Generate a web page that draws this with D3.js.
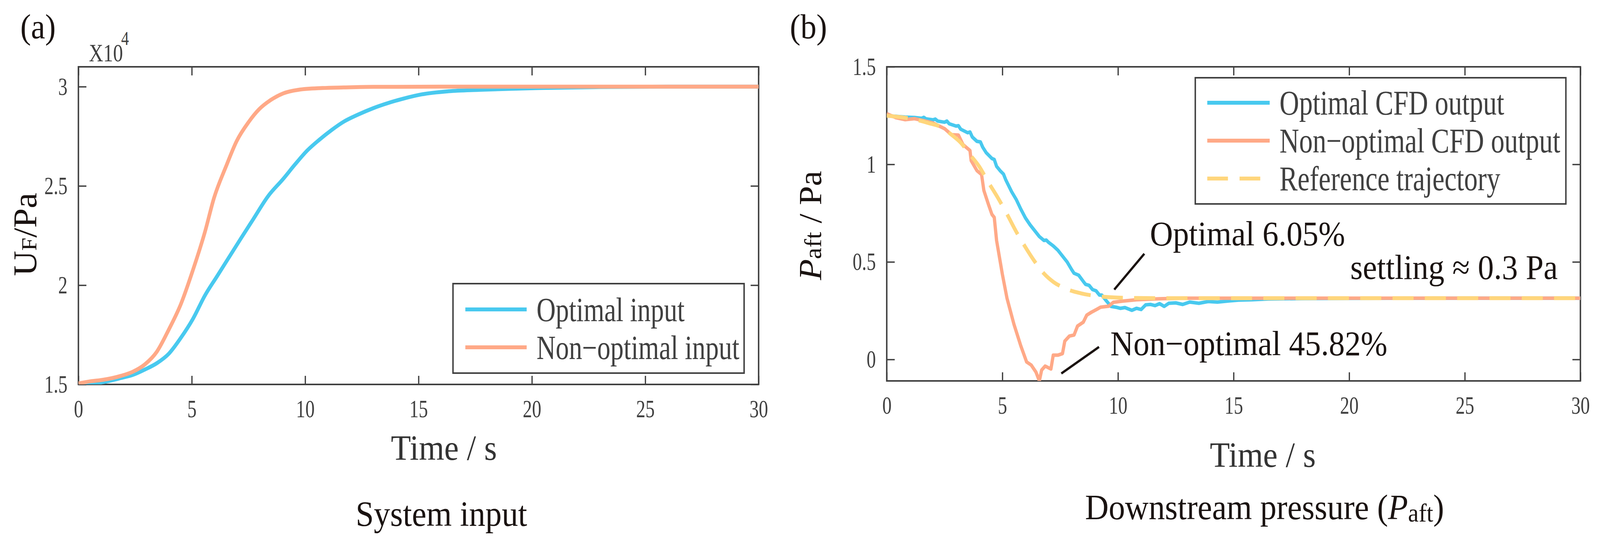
<!DOCTYPE html>
<html>
<head>
    <script src="https://d3js.org/d3.v7.min.js"></script>
    <style>
        html, body { margin: 0; padding: 0; overflow: hidden; background: #fff; }
        svg { display: block; width: 100vw; height: 100vh; }
        text { font-family: "Liberation Serif", "Times New Roman", serif; }
    </style>
</head>
<body>
    <svg viewBox="0 0 4408 1395" preserveAspectRatio="none"></svg>

    <script>
        // ---- data ----
        // panel (a): system input, [time s, value x10^4 Pa]
        const optimalInput = [
            [0, 1.5], [1.07, 1.511], [1.87, 1.532], [2.4, 1.548], [2.93, 1.575], [3.46, 1.607],
            [3.99, 1.655], [4.52, 1.735], [5.05, 1.83], [5.58, 1.948], [6.11, 2.044], [6.64, 2.14],
            [7.17, 2.236], [7.71, 2.332], [8.37, 2.449], [9.03, 2.535], [9.56, 2.609], [10.09, 2.678],
            [10.62, 2.732], [11.15, 2.78], [11.68, 2.822], [12.35, 2.86], [13.01, 2.892], [13.67, 2.918],
            [14.34, 2.94], [15.13, 2.961], [16.33, 2.977], [17.65, 2.984], [18.98, 2.989], [20.44, 2.993],
            [23, 2.998], [26, 3.0], [30, 3.0]
        ];
        const nonOptimalInput = [
            [0, 1.505], [0.54, 1.516], [1.07, 1.523], [1.87, 1.543], [2.4, 1.564], [2.93, 1.601],
            [3.46, 1.665], [3.99, 1.777], [4.52, 1.905], [5.05, 2.076], [5.58, 2.268], [5.98, 2.439],
            [6.51, 2.598], [6.98, 2.726], [7.51, 2.822], [7.97, 2.886], [8.5, 2.934], [9.03, 2.966],
            [9.69, 2.984], [10.76, 2.993], [11.7, 2.996], [13, 2.999], [16, 3.0], [30, 3.0]
        ];

        // panel (b): downstream pressure, [time s, Pa]
        const optimalCFD = [
            [0, 1.249], [0.4, 1.246], [0.8, 1.242], [1.2, 1.240], [1.5, 1.236], [1.6, 1.241], [1.7, 1.233],
            [2.0, 1.228], [2.1, 1.232], [2.2, 1.222], [2.5, 1.216], [2.6, 1.222], [2.7, 1.208], [3.0, 1.196],
            [3.1, 1.198], [3.2, 1.180], [3.5, 1.162], [3.6, 1.166], [3.7, 1.140], [3.9, 1.118], [4.05, 1.115],
            [4.15, 1.088], [4.3, 1.060], [4.55, 1.030], [4.65, 1.025], [4.75, 0.990], [4.9, 0.968],
            [5.05, 0.950], [5.15, 0.920], [5.4, 0.860], [5.6, 0.820], [5.8, 0.770], [6.0, 0.725],
            [6.2, 0.690], [6.4, 0.660], [6.6, 0.630], [6.8, 0.610], [6.9, 0.612], [7.0, 0.600],
            [7.2, 0.582], [7.4, 0.560], [7.6, 0.530], [7.8, 0.500], [8.0, 0.460], [8.1, 0.442],
            [8.3, 0.432], [8.5, 0.400], [8.6, 0.385], [8.75, 0.380], [8.9, 0.358], [9.05, 0.352],
            [9.2, 0.330], [9.3, 0.330], [9.5, 0.300], [9.7, 0.272], [9.9, 0.268], [10.1, 0.262],
            [10.3, 0.266], [10.6, 0.252], [10.8, 0.262], [11.0, 0.256], [11.2, 0.280], [11.4, 0.282],
            [11.6, 0.276], [11.8, 0.286], [12.0, 0.272], [12.2, 0.288], [12.5, 0.290], [12.8, 0.282],
            [13.1, 0.294], [13.5, 0.288], [13.9, 0.297], [14.3, 0.294], [14.8, 0.300], [15.2, 0.304],
            [15.8, 0.306], [16.5, 0.310], [18, 0.312], [20, 0.313], [25, 0.314], [30, 0.314]
        ];
        const nonOptimalCFD = [
            [0, 1.26], [0.4, 1.239], [0.8, 1.229], [1.2, 1.234], [1.6, 1.224], [2.0, 1.212],
            [2.5, 1.183], [2.8, 1.152], [3.1, 1.150], [3.3, 1.101], [3.6, 1.071], [3.65, 1.019],
            [3.9, 0.968], [4.1, 0.948], [4.2, 0.866], [4.4, 0.794], [4.55, 0.743], [4.65, 0.728],
            [4.75, 0.61], [5.0, 0.437], [5.2, 0.314], [5.5, 0.181], [5.8, 0.069], [6.05, -0.013],
            [6.25, -0.029], [6.45, -0.064], [6.6, -0.11], [6.7, -0.054], [6.85, -0.034], [7.1, -0.049],
            [7.2, 0.022], [7.4, 0.022], [7.6, 0.030], [7.7, 0.094], [7.9, 0.120], [8.1, 0.125],
            [8.25, 0.171], [8.5, 0.191], [8.65, 0.227], [8.85, 0.242], [9.1, 0.258], [9.25, 0.268],
            [9.6, 0.273], [9.8, 0.293], [10.2, 0.299], [10.8, 0.306], [11.8, 0.311], [12.8, 0.314],
            [30, 0.314]
        ];
        const referenceTraj = [
            [0, 1.249], [0.8, 1.239], [1.8, 1.212], [2.4, 1.188], [2.8, 1.152], [3.2, 1.111],
            [3.6, 1.05], [4.0, 0.989], [4.4, 0.907], [4.8, 0.83], [5.2, 0.745], [5.6, 0.655],
            [6.0, 0.575], [6.4, 0.502], [6.8, 0.440], [7.2, 0.398], [7.8, 0.360], [8.4, 0.339],
            [9.0, 0.326], [9.8, 0.318], [10.8, 0.315], [11.8, 0.314], [30, 0.314]
        ];

        const timeTicks = [0, 5, 10, 15, 20, 25, 30];
        const inputTicks = [1.5, 2, 2.5, 3];
        const inputTickLabels = ["1.5", "2", "2.5", "3"];
        const pressureTicks = [0, 0.5, 1, 1.5];
        const pressureTickLabels = ["0", "0.5", "1", "1.5"];

        const legendA = ["Optimal input", "Non\u2212optimal input"];
        const legendB = ["Optimal CFD output", "Non\u2212optimal CFD output", "Reference trajectory"];

        // annotations in panel (b), data units
        const notes = [
            { text: "Optimal 6.05%", t: 11.38, v: 0.584, from: [11.14, 0.542], to: [9.84, 0.358] },
            { text: "settling \u2248 0.3 Pa", t: 20.05, v: 0.412 },
            { text: "Non\u2212optimal 45.82%", t: 9.67, v: 0.022, from: [9.18, 0.064], to: [7.55, -0.072] }
        ];

        const blue = "#48C9EF", orange = "#FFA987", yellow = "#FFD67C";
        const axisCol = "#404040", black = "#1a1311";

        const svg = d3.select("svg");
        svg.append("rect").attr("width", 4408).attr("height", 1395).attr("fill", "#fff");

        // text squeezed horizontally like the original axis font
        function sqText(g, x, y, s, size, sx, anchor, fill) {
            return g.append("text")
                .attr("transform", `translate(${x},${y}) scale(${sx},1)`)
                .attr("font-size", size)
                .attr("text-anchor", anchor || "start")
                .attr("fill", fill || axisCol)
                .text(s);
        }

        function drawFrame(x, y, yTicks, yLabels, id) {
            const [x0, x1] = x.range();
            const [y0, y1] = y.range();
            const style = g => g.attr("font-size", 64).attr("font-family", "Liberation Serif")
                .style("color", axisCol)
                .call(a => a.select(".domain").remove())
                .call(a => a.selectAll("line").attr("stroke-width", 3.5));

            svg.append("g").attr("transform", `translate(0,${y0})`)
                .call(d3.axisBottom(x).tickValues(timeTicks).tickSize(-22).tickPadding(39).tickFormat(d3.format("d")))
                .call(style)
                .call(a => a.selectAll("text").attr("transform", "scale(0.8,1)"));
            svg.append("g").attr("transform", `translate(0,${y1})`)
                .call(d3.axisTop(x).tickValues(timeTicks).tickSize(-22).tickFormat(""))
                .call(style);
            svg.append("g").attr("transform", `translate(${x0},0)`)
                .call(d3.axisLeft(y).tickValues(yTicks).tickSize(-22).tickFormat((d, i) => yLabels[i]))
                .call(style)
                .call(a => a.selectAll("text").attr("transform", "scale(0.8,1)").attr("x", -30 / 0.8));
            svg.append("g").attr("transform", `translate(${x1},0)`)
                .call(d3.axisRight(y).tickValues(yTicks).tickSize(-22).tickFormat(""))
                .call(style);

            svg.append("rect").attr("x", x0).attr("y", y1).attr("width", x1 - x0).attr("height", y0 - y1)
                .attr("fill", "none").attr("stroke", axisCol).attr("stroke-width", 4);

            svg.append("clipPath").attr("id", id).append("rect")
                .attr("x", x0).attr("y", y1).attr("width", x1 - x0).attr("height", y0 - y1);
        }

        // ---------- panel (a) ----------
        const xA = d3.scaleLinear().domain([0, 30]).range([216, 2090]);
        const yA = d3.scaleLinear().domain([1.5, 3.1]).range([984, 171]);
        drawFrame(xA, yA, inputTicks, inputTickLabels, "clipA");

        const lineA = d3.line().x(d => xA(d[0])).y(d => yA(d[1])).curve(d3.curveMonotoneX);
        const gA = svg.append("g").attr("clip-path", "url(#clipA)");
        gA.append("path").attr("d", lineA(optimalInput)).attr("fill", "none").attr("stroke", blue).attr("stroke-width", 10);
        gA.append("path").attr("d", lineA(nonOptimalInput)).attr("fill", "none").attr("stroke", orange).attr("stroke-width", 10);

        sqText(svg, 245, 157, "X10", 64, 0.85);
        sqText(svg, 334, 115, "4", 50, 0.85);

        // legend (a)
        const legA = svg.append("g");
        legA.append("rect").attr("x", 1248).attr("y", 726).attr("width", 802).attr("height", 229)
            .attr("fill", "#fff").attr("stroke", axisCol).attr("stroke-width", 4);
        [blue, orange].forEach((c, i) => {
            const ly = 792 + i * 97;
            legA.append("line").attr("x1", 1282).attr("x2", 1451).attr("y1", ly).attr("y2", ly)
                .attr("stroke", c).attr("stroke-width", 10);
            sqText(legA, 1478, ly + 30, legendA[i], 86, 0.85);
        });

        // axis labels (a)
        const ylabA = svg.append("text").attr("transform", "translate(100,600) rotate(-90)")
            .attr("text-anchor", "middle").attr("font-size", 90).attr("fill", black);
        ylabA.append("tspan").text("U");
        ylabA.append("tspan").attr("font-size", 60).text("F");
        ylabA.append("tspan").text("/Pa");
        svg.append("text").attr("x", 1223).attr("y", 1177).attr("text-anchor", "middle")
            .attr("font-size", 90).attr("fill", "#333").text("Time / s");
        svg.append("text").attr("x", 1216).attr("y", 1346).attr("text-anchor", "middle")
            .attr("font-size", 90).attr("fill", black).text("System input");
        svg.append("text").attr("x", 56).attr("y", 98).attr("font-size", 88).attr("fill", black).text("(a)");

        // ---------- panel (b) ----------
        const xB = d3.scaleLinear().domain([0, 30]).range([2443, 4354]);
        const yB = d3.scaleLinear().domain([-0.11, 1.5]).range([975, 171]);
        drawFrame(xB, yB, pressureTicks, pressureTickLabels, "clipB");

        const lineB = d3.line().x(d => xB(d[0])).y(d => yB(d[1]));
        const gB = svg.append("g").attr("clip-path", "url(#clipB)");
        gB.append("path").attr("d", lineB(optimalCFD)).attr("fill", "none").attr("stroke", blue)
            .attr("stroke-width", 9).attr("stroke-linejoin", "round");
        gB.append("path").attr("d", lineB(nonOptimalCFD)).attr("fill", "none").attr("stroke", orange)
            .attr("stroke-width", 9).attr("stroke-linejoin", "round");
        gB.append("path").attr("d", lineB.curve(d3.curveMonotoneX)(referenceTraj)).attr("fill", "none")
            .attr("stroke", yellow).attr("stroke-width", 10).attr("stroke-dasharray", "58 31");

        // legend (b)
        const legB = svg.append("g");
        legB.append("rect").attr("x", 3293).attr("y", 199).attr("width", 1021).attr("height", 323)
            .attr("fill", "#fff").attr("stroke", axisCol).attr("stroke-width", 4);
        [blue, orange, yellow].forEach((c, i) => {
            const ly = 263 + i * 97;
            legB.append("line").attr("x1", 3326).attr("x2", 3498).attr("y1", ly).attr("y2", ly)
                .attr("stroke", c).attr("stroke-width", 10)
                .attr("stroke-dasharray", i === 2 ? "57 32" : null);
            sqText(legB, 3525, ly + 30, legendB[i], 88, 0.85);
        });

        // annotations
        notes.forEach(n => {
            svg.append("text").attr("x", xB(n.t)).attr("y", yB(n.v)).attr("font-size", 88)
                .attr("fill", black).text(n.text);
            if (n.from) {
                svg.append("line").attr("x1", xB(n.from[0])).attr("y1", yB(n.from[1]))
                    .attr("x2", xB(n.to[0])).attr("y2", yB(n.to[1]))
                    .attr("stroke", black).attr("stroke-width", 6);
            }
        });

        // axis labels (b)
        const ylabB = svg.append("text").attr("transform", "translate(2262,577) rotate(-90)")
            .attr("text-anchor", "middle").attr("font-size", 88).attr("fill", black);
        ylabB.append("tspan").attr("font-style", "italic").text("P");
        ylabB.append("tspan").attr("font-size", 66).text("aft");
        ylabB.append("tspan").text(" / Pa");
        svg.append("text").attr("x", 3479).attr("y", 1195).attr("text-anchor", "middle")
            .attr("font-size", 90).attr("fill", "#333").text("Time / s");
        const titleB = svg.append("text").attr("x", 3484).attr("y", 1329).attr("text-anchor", "middle")
            .attr("font-size", 90).attr("fill", black);
        titleB.append("tspan").text("Downstream pressure (");
        titleB.append("tspan").attr("font-style", "italic").text("P");
        titleB.append("tspan").attr("font-size", 66).attr("dy", 6).text("aft");
        titleB.append("tspan").attr("dy", -6).text(")");
        svg.append("text").attr("x", 2176).attr("y", 98).attr("font-size", 88).attr("fill", black).text("(b)");
    </script>
</body>
</html>
